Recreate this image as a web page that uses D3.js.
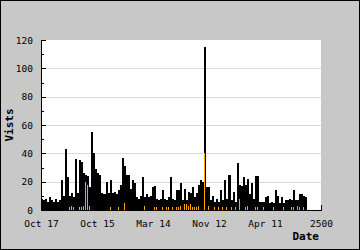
<!DOCTYPE html>
<html>
<head>
<meta charset="utf-8">
<script src="https://cdn.jsdelivr.net/npm/d3@7"></script>
<style>
  body { margin: 0; }
  svg { display: block; }
  text { font-family: "DejaVu Sans Mono", monospace; }
</style>
</head>
<body>
<div id="chart"></div>
<script>
// visits per bin (one bin = 18 units on the x axis)
var visits = [
  8, 7, 8, 6, 9, 7, 6, 8, 6, 7,
  21, 10, 43, 23, 10, 12, 9, 36, 12, 35,
  34, 26, 25, 24, 16, 55, 40, 29, 26, 25,
  12, 11, 20, 12, 21, 12, 13, 11, 14, 18,
  37, 31, 25, 25, 15, 21, 19, 9, 8, 10,
  23, 9, 11, 9, 10, 16, 17, 8, 7, 8,
  14, 8, 7, 9, 23, 8, 7, 14, 14, 19,
  7, 15, 7, 13, 12, 16, 9, 12, 18, 21,
  20, 115, 16, 16, 7, 10, 6, 8, 6, 14,
  7, 21, 8, 25, 7, 13, 6, 33, 18, 17,
  23, 18, 22, 11, 19, 8, 24, 24, 6, 6,
  6, 9, 10, 5, 6, 5, 14, 10, 5, 9,
  5, 7, 7, 8, 7, 14, 7, 7, 11, 11,
  10, 9
];
// second series (orange)
var uniques = [
  1, 0, 0, 0, 0, 0, 0, 0, 0, 0,
  0, 0, 0, 0, 2, 3, 2, 0, 0, 2,
  2, 3, 20, 18, 3, 0, 0, 0, 0, 0,
  0, 0, 0, 0, 2, 0, 0, 0, 2, 0,
  0, 5, 0, 0, 0, 0, 0, 0, 0, 0,
  0, 3, 0, 0, 0, 0, 2, 2, 0, 0,
  2, 0, 2, 2, 0, 2, 0, 2, 2, 3,
  0, 4, 4, 3, 4, 2, 2, 2, 3, 0,
  0, 40, 0, 3, 0, 0, 2, 0, 2, 0,
  2, 0, 2, 0, 2, 0, 2, 0, 8, 0,
  0, 2, 3, 0, 0, 0, 2, 2, 0, 0,
  2, 0, 0, 0, 0, 2, 0, 0, 0, 0,
  2, 0, 0, 0, 2, 2, 0, 3, 2, 0,
  2, 0
];
var binStep = 18;
var xTickValues = [0, 500, 1000, 1500, 2000, 2500];
var xTickLabels = ["Oct 17", "Oct 15", "Mar 14", "Nov 12", "Apr 11", "2500"];
var yMajorTicks = [0, 20, 40, 60, 80, 100, 120];
var yMinorTicks = [10, 30, 50, 70, 90, 110];
var yGridTicks = [20, 40, 60, 80, 100];

var width = 360;
var height = 250;
var margin = {top: 40, right: 39, bottom: 40, left: 41};
var plotW = width - margin.left - margin.right;
var plotH = height - margin.top - margin.bottom;

var svg = d3.select("#chart")
  .append("svg")
  .attr("width", width)
  .attr("height", height);

svg.append("rect")
  .attr("x", 0.5).attr("y", 0.5)
  .attr("width", width - 1).attr("height", height - 1)
  .attr("fill", "#c8c8c8")
  .attr("stroke", "#000");

var g = svg.append("g")
  .attr("transform", "translate(" + margin.left + "," + margin.top + ")");

g.append("rect")
  .attr("width", plotW)
  .attr("height", plotH)
  .attr("fill", "#fff");

var x = d3.scaleLinear().domain([0, 2500]).range([0, plotW]);
var y = d3.scaleLinear().domain([0, 120]).range([plotH, 0]);

var data = visits.map(function(v, i) {
  return {day: i * binStep, visits: v, uniques: uniques[i]};
});
var barW = x(binStep) - x(0);

// grid
g.append("g")
  .attr("class", "grid")
  .call(d3.axisLeft(y).tickValues(yGridTicks).tickSize(-plotW).tickFormat(""))
  .call(function(s) {
    s.select(".domain").remove();
    s.selectAll("line").attr("stroke", "#d9d9d9").attr("shape-rendering", "crispEdges");
  });

g.selectAll(".bar")
  .data(data)
  .enter().append("rect")
  .attr("class", "bar")
  .attr("x", function(d) { return x(d.day); })
  .attr("y", function(d) { return y(d.visits); })
  .attr("width", barW)
  .attr("height", function(d) { return y(0) - y(d.visits); })
  .attr("fill", "#000")
  .attr("shape-rendering", "crispEdges");

g.selectAll(".ubar")
  .data(data.filter(function(d) { return d.uniques > 0; }))
  .enter().append("rect")
  .attr("class", "ubar")
  .attr("x", function(d) { return x(d.day); })
  .attr("y", function(d) { return y(d.uniques); })
  .attr("width", 1)
  .attr("height", function(d) { return y(0) - y(d.uniques); })
  .attr("fill", "#ffa500")
  .attr("shape-rendering", "crispEdges");

// axes
var xAxis = d3.axisBottom(x)
  .tickValues(xTickValues)
  .tickSizeInner(-5)
  .tickSizeOuter(0)
  .tickPadding(10)
  .tickFormat(function(d, i) { return xTickLabels[i]; });

g.append("g")
  .attr("transform", "translate(0," + plotH + ")")
  .call(xAxis)
  .call(function(s) {
    s.selectAll("text").attr("font-size", "9.5px").attr("fill", "#000").attr("font-family", "DejaVu Sans Mono");
    s.selectAll("line, path").attr("stroke", "#000").attr("shape-rendering", "crispEdges");
  });

g.append("g")
  .call(d3.axisLeft(y).tickValues(yMajorTicks).tickSizeInner(-5).tickSizeOuter(0).tickPadding(8))
  .call(function(s) {
    s.selectAll("text").attr("font-size", "9.5px").attr("fill", "#000").attr("font-family", "DejaVu Sans Mono");
    s.selectAll("line, path").attr("stroke", "#000").attr("shape-rendering", "crispEdges");
  });

g.append("g")
  .call(d3.axisLeft(y).tickValues(yMinorTicks).tickSizeInner(-3).tickSizeOuter(0).tickFormat(""))
  .call(function(s) {
    s.select(".domain").remove();
    s.selectAll("line").attr("stroke", "#000").attr("shape-rendering", "crispEdges");
  });

// titles
svg.append("text")
  .attr("transform", "translate(13," + (margin.top + plotH / 2) + ") rotate(-90)")
  .attr("text-anchor", "middle")
  .attr("font-size", "11px")
  .attr("font-weight", "bold")
  .text("Vists");

svg.append("text")
  .attr("x", 319)
  .attr("y", 240)
  .attr("text-anchor", "end")
  .attr("font-size", "11px")
  .attr("font-weight", "bold")
  .text("Date");
</script>
</body>
</html>
